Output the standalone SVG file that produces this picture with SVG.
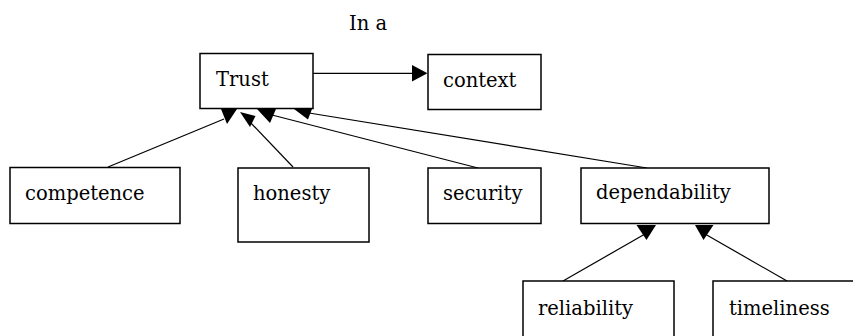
<svg xmlns="http://www.w3.org/2000/svg" width="853" height="336" viewBox="0 0 853 336">
<style>
  .box { fill: #ffffff; stroke: #000000; stroke-width: 1.5; }
  .lbl { font-family: "DejaVu Serif", "Liberation Serif", serif; font-size: 19.5px; fill: #000000; }
  .edge { stroke: #000000; stroke-width: 1.2; fill: none; }
  .head { fill: #000000; stroke: none; }
</style>
<rect width="853" height="336" fill="#ffffff"/>
<text id="caption" class="lbl" x="349" y="30">In a</text>
<g id="connectors">
  <line class="edge" x1="313" y1="73.3" x2="413" y2="73.3"/>
  <polygon class="head" points="412,65 427.5,73.3 412,81.5"/>
  <line class="edge" x1="108" y1="167" x2="224" y2="119"/>
  <polygon class="head" points="221,109 237,109 227,124"/>
  <line class="edge" x1="293" y1="167" x2="249" y2="121"/>
  <polygon class="head" points="240,112 255.5,116 250,127"/>
  <line class="edge" x1="478" y1="168" x2="272" y2="115"/>
  <polygon class="head" points="257,109 276,109 270,123"/>
  <line class="edge" x1="647" y1="168" x2="309" y2="113"/>
  <polygon class="head" points="294,109 312,109 308,119.5"/>
  <line class="edge" x1="563" y1="281" x2="645" y2="234"/>
  <polygon class="head" points="636.5,225 656,225 646.5,240"/>
  <line class="edge" x1="787" y1="281" x2="705" y2="234"/>
  <polygon class="head" points="695,225 713.5,225 703.5,240"/>
</g>
<g id="trust"><rect class="box" x="200" y="53.5" width="113" height="55"/><text class="lbl" x="216" y="86">Trust</text></g>
<g id="context"><rect class="box" x="428" y="54.5" width="113" height="55"/><text class="lbl" x="443" y="87">context</text></g>
<g id="competence"><rect class="box" x="10" y="167.5" width="170" height="56"/><text class="lbl" x="25" y="200">competence</text></g>
<g id="honesty"><rect class="box" x="238" y="168" width="131" height="74"/><text class="lbl" x="253" y="200">honesty</text></g>
<g id="security"><rect class="box" x="428" y="168" width="113" height="55.5"/><text class="lbl" x="443" y="200">security</text></g>
<g id="dependability"><rect class="box" x="581" y="168" width="188" height="55.5"/><text class="lbl" x="596" y="199">dependability</text></g>
<g id="reliability"><rect class="box" x="523" y="281" width="151" height="70"/><text class="lbl" x="538" y="315">reliability</text></g>
<g id="timeliness"><rect class="box" x="713" y="281" width="160" height="70"/><text class="lbl" x="729" y="315">timeliness</text></g>
</svg>
